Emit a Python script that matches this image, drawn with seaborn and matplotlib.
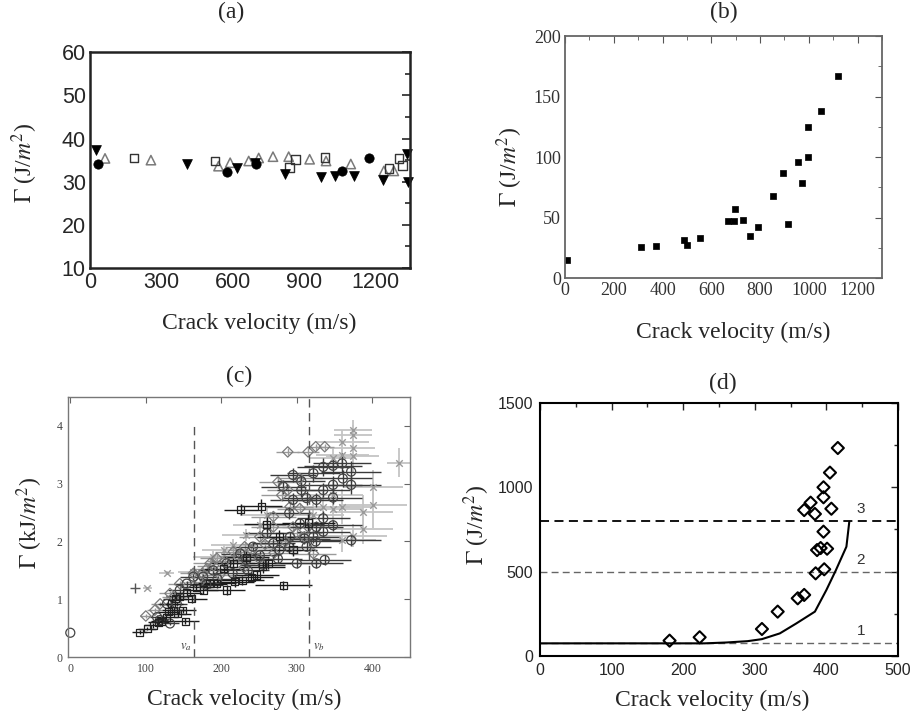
import numpy as np
import pandas as pd
import matplotlib
matplotlib.use("Agg")
import matplotlib.pyplot as plt
import seaborn as sns
from matplotlib.ticker import MultipleLocator

# ---------------- data ----------------
# (a)
a_tri_x = [24, 407, 618, 692, 818, 970, 1029, 1109, 1232, 1331, 1336]
a_tri_y = [37.3, 34.2, 33.1, 34.4, 31.9, 31.1, 31.3, 31.3, 30.5, 36.4, 30.0]
a_cir_x = [32, 576, 697, 1060, 1173]
a_cir_y = [34.1, 32.2, 34.1, 32.5, 35.6]
a_sq_x = [185, 526, 839, 863, 987, 1256, 1298, 1313]
a_sq_y = [35.5, 34.8, 33.3, 35.2, 35.6, 33.1, 35.4, 33.7]
a_otri_x = [63, 256, 540, 589, 667, 709, 769, 835, 923, 992, 1096, 1235, 1277]
a_otri_y = [35.4, 35.0, 33.6, 34.4, 34.8, 35.5, 35.8, 35.8, 35.2, 34.8, 34.1, 32.5, 32.5]

# (b)
b_x = [7, 310, 372, 488, 499, 555, 669, 693, 698, 731, 757, 792, 854, 896, 915,
       956, 971, 997, 997, 1049, 1120]
b_y = [14.9, 26.0, 26.8, 31.5, 27.3, 33.4, 47.2, 47.2, 56.9, 48.1, 34.5, 42.0, 67.4,
       87.0, 44.5, 95.6, 78.2, 100.0, 124.9, 138.4, 167.1]

# (c)
sq_x = [92, 102, 110, 117, 121, 127, 130, 137, 142, 149, 152, 134, 139, 145, 154,
        161, 167, 176, 185, 194, 207, 218, 228, 240, 247, 255, 262, 282, 226, 253,
        260, 277, 295, 315, 233, 216, 203]
sq_y = [0.43, 0.49, 0.55, 0.60, 0.62, 0.69, 0.78, 0.81, 0.75, 0.81, 0.62, 0.92, 1.01,
        1.05, 1.11, 1.01, 1.21, 1.16, 1.27, 1.28, 1.16, 1.30, 1.33, 1.38, 1.42, 1.56,
        1.62, 1.24, 2.55, 2.61, 2.30, 2.08, 1.86, 2.32, 1.73, 1.62, 1.53]
sq_xerr = [10, 12, 12, 14, 14, 15, 15, 16, 18, 18, 18, 15, 16, 18, 20, 20, 22, 20, 22,
           25, 25, 25, 28, 28, 30, 30, 30, 38, 22, 28, 30, 30, 32, 35, 30, 28, 26]
sq_yerr = [0.03, 0.03, 0.04, 0.04, 0.04, 0.05, 0.05, 0.05, 0.05, 0.05, 0.05, 0.06,
           0.06, 0.06, 0.07, 0.07, 0.07, 0.07, 0.08, 0.08, 0.08, 0.08, 0.08, 0.09,
           0.09, 0.10, 0.10, 0.08, 0.10, 0.12, 0.12, 0.12, 0.12, 0.15, 0.10, 0.10, 0.09]

ci_x = [295, 322, 335, 348, 360, 372, 372, 348, 335, 306, 295, 313, 326, 348, 290,
        304, 326, 335, 348, 372, 335, 322, 313, 300, 326, 337, 291, 277, 269, 251,
        233, 260, 242, 225, 207, 189, 176, 163, 154, 145, 141, 128, 119, 115, 132, 361,
        180, 195, 215, 235, 255, 275, 290, 310, 325, 306, 282]
ci_y = [3.15, 3.18, 3.29, 3.31, 3.35, 3.21, 2.98, 2.98, 2.89, 2.89, 2.72, 2.75, 2.72,
        2.76, 2.49, 2.31, 2.25, 2.40, 2.28, 2.02, 2.17, 2.08, 1.91, 1.62, 1.62, 1.68,
        2.08, 1.85, 1.97, 1.76, 1.68, 2.14, 1.91, 1.79, 1.62, 1.50, 1.39, 1.39, 1.27,
        1.16, 0.92, 0.92, 0.64, 0.69, 0.58, 3.09,
        1.25, 1.35, 1.45, 1.50, 1.60, 1.70, 1.90, 2.05, 2.00, 3.04, 2.95]
ci_xerr = [30, 35, 35, 38, 38, 40, 40, 38, 35, 32, 30, 32, 35, 38, 30, 32, 35, 35, 38,
           40, 35, 35, 32, 30, 35, 35, 30, 28, 28, 26, 25, 28, 26, 25, 22, 20, 20, 18,
           16, 15, 14, 12, 10, 10, 12, 38,
           22, 24, 26, 28, 30, 32, 34, 34, 36, 32, 30]
ci_yerr = [0.12, 0.15, 0.15, 0.15, 0.18, 0.18, 0.15, 0.15, 0.12, 0.12, 0.12, 0.12,
           0.12, 0.12, 0.10, 0.10, 0.10, 0.12, 0.10, 0.10, 0.10, 0.10, 0.08, 0.08,
           0.08, 0.08, 0.08, 0.08, 0.08, 0.07, 0.07, 0.08, 0.07, 0.07, 0.06, 0.06,
           0.05, 0.05, 0.05, 0.05, 0.04, 0.04, 0.03, 0.03, 0.03, 0.15,
           0.05, 0.06, 0.06, 0.07, 0.07, 0.08, 0.08, 0.09, 0.09, 0.12, 0.12]

di_x = [100, 112, 119, 132, 145, 163, 181, 194, 216, 231, 251, 269, 275, 288, 280,
        288, 315, 325, 337, 304, 291, 304, 322, 310, 295, 269, 198, 172, 137, 185,
        205, 222, 240, 258, 175, 190, 230, 250, 270, 285, 300, 315]
di_y = [0.71, 0.81, 0.92, 1.10, 1.27, 1.45, 1.53, 1.71, 1.82, 1.91, 2.08, 2.25, 3.03,
        2.89, 2.80, 3.55, 3.55, 3.64, 3.64, 3.09, 2.60, 2.57, 1.79, 2.08, 2.25, 2.43,
        1.42, 1.30, 1.04, 1.62,
        1.66, 1.75, 1.85, 1.95, 1.45, 1.58, 1.55, 1.70, 1.80, 2.00, 2.15, 2.25]
di_xerr = [8, 10, 12, 14, 16, 18, 20, 22, 24, 26, 28, 30, 25, 28, 28, 15, 15, 12, 12,
           30, 30, 30, 30, 30, 30, 30, 22, 20, 15, 22,
           24, 26, 28, 30, 20, 22, 28, 30, 32, 32, 34, 34]
di_yerr = [0.03, 0.04, 0.04, 0.05, 0.05, 0.06, 0.06, 0.07, 0.07, 0.08, 0.08, 0.09,
           0.10, 0.10, 0.10, 0.06, 0.06, 0.05, 0.05, 0.10, 0.10, 0.10, 0.08, 0.09,
           0.09, 0.09, 0.06, 0.05, 0.05, 0.06,
           0.07, 0.07, 0.08, 0.08, 0.06, 0.06, 0.07, 0.07, 0.08, 0.09, 0.09, 0.10]

xm_x = [102, 128, 374, 374, 360, 360, 348, 435, 401, 401, 388, 388, 374, 360, 360,
        348, 335, 374, 216, 233, 203, 189, 251, 163, 260, 374, 322, 348]
xm_y = [1.19, 1.45, 3.93, 3.84, 3.73, 3.50, 3.44, 3.36, 2.94, 2.63, 2.51, 2.21, 2.10,
        2.02, 2.60, 2.57, 2.60, 3.61, 1.94, 2.11, 1.85, 1.73, 2.28, 1.47, 2.46, 3.48,
        2.45, 2.80]
xm_xerr = [6, 10, 25, 25, 35, 35, 30, 15, 40, 45, 40, 40, 45, 45, 40, 40, 35, 30, 30,
           32, 28, 26, 35, 20, 35, 35, 40, 40]
xm_yerr = [0.02, 0.03, 0.18, 0.18, 0.2, 0.2, 0.2, 0.25, 0.3, 0.4, 0.3, 0.25, 0.2, 0.2,
           0.3, 0.25, 0.25, 0.2, 0.1, 0.1, 0.1, 0.1, 0.15, 0.05, 0.15, 0.3, 0.2, 0.25]

plus_x = [86]
plus_y = [1.19]
origin_x = [0]
origin_y = [0.42]
c_va = 164
c_vb = 316

# (d)
d_x = [181, 223, 310, 332, 360, 369, 385, 397, 387, 392, 401, 396, 369, 378, 384,
       407, 396, 396, 405, 416]
d_y = [91, 111, 160, 263, 342, 362, 490, 514, 628, 640, 636, 737, 865, 909, 842,
       873, 941, 1000, 1087, 1233]
curve_x = [0, 230, 260, 290, 310, 335, 358, 384, 400, 413, 428, 432]
curve_y = [75, 75, 80, 88, 100, 134, 193, 263, 391, 506, 648, 795]
d_levels = [75, 500, 800]
d_level_labels = ["1", "2", "3"]

# ---------------- style ----------------
sns.set_style("white")
plt.rcParams["font.family"] = ["Liberation Serif", "DejaVu Serif"]
plt.rcParams["mathtext.fontset"] = "stix"
plt.rcParams["axes.linewidth"] = 1.0

fig = plt.figure(figsize=(9.12, 7.16), dpi=100)
LBL = 17

ax_a = fig.add_axes([0.0987, 0.6257, 0.3509, 0.3013])
ax_b = fig.add_axes([0.6195, 0.6117, 0.3476, 0.3380])
ax_c = fig.add_axes([0.0746, 0.0824, 0.3750, 0.3631])
ax_d = fig.add_axes([0.5921, 0.0838, 0.3925, 0.3534])


def labels(ax, xl, yl, xpos, ypos, title, tpos):
    ax.set_xlabel(xl, fontsize=LBL, va="center", ha="center")
    ax.xaxis.set_label_coords(*xpos)
    ax.set_ylabel(yl, fontsize=LBL, va="center", ha="center")
    ax.yaxis.set_label_coords(*ypos)
    ax.text(tpos[0], tpos[1], title, transform=ax.transAxes, ha="center",
            va="center", fontsize=LBL)


XL = "Crack velocity (m/s)"
YL = r"$\Gamma$ (J/$m^2$)"

# ---- (a)
sns.scatterplot(x=a_otri_x, y=a_otri_y, marker="^", s=45, facecolor="none",
                edgecolor="#7a7a7a", linewidth=1.1, ax=ax_a)
sns.scatterplot(x=a_sq_x, y=a_sq_y, marker="s", s=38, facecolor="none",
                edgecolor="#333333", linewidth=1.0, ax=ax_a)
sns.scatterplot(x=a_tri_x, y=a_tri_y, marker="v", s=50, color="black",
                edgecolor="black", linewidth=0.5, ax=ax_a, clip_on=False)
sns.scatterplot(x=a_cir_x, y=a_cir_y, marker="o", s=45, color="black",
                edgecolor="black", linewidth=0.5, ax=ax_a)
ax_a.set_xlim(0, 1345)
ax_a.set_ylim(10, 60)
ax_a.xaxis.set_major_locator(MultipleLocator(300))
ax_a.xaxis.set_minor_locator(MultipleLocator(150))
ax_a.yaxis.set_major_locator(MultipleLocator(10))
ax_a.yaxis.set_minor_locator(MultipleLocator(5))
ax_a.tick_params(which="both", direction="in", right=True, top=False,
                 labelsize=15.5, width=1.2, pad=3)
ax_a.tick_params(which="major", length=6)
ax_a.tick_params(which="minor", length=3.5)
for lab in ax_a.get_xticklabels() + ax_a.get_yticklabels():
    lab.set_family(["Liberation Sans", "DejaVu Sans"])
for sp in ax_a.spines.values():
    sp.set_linewidth(1.8)
    sp.set_color("#222222")
labels(ax_a, XL, YL, (0.53, -0.255), (-0.203, 0.486), "(a)", (0.44, 1.185))

# ---- (b)
sns.scatterplot(x=b_x, y=b_y, marker="s", s=22, color="black", edgecolor="black",
                linewidth=0.5, ax=ax_b)
ax_b.set_xlim(0, 1300)
ax_b.set_ylim(0, 200)
ax_b.xaxis.set_major_locator(MultipleLocator(200))
ax_b.xaxis.set_minor_locator(MultipleLocator(100))
ax_b.yaxis.set_major_locator(MultipleLocator(50))
ax_b.yaxis.set_minor_locator(MultipleLocator(25))
ax_b.tick_params(which="both", direction="in", right=True, top=True,
                 labelsize=13, labelcolor="#333333", color="#555555", pad=3)
ax_b.tick_params(which="major", length=5)
ax_b.tick_params(which="minor", length=3)
for sp in ax_b.spines.values():
    sp.set_linewidth(1.3)
    sp.set_color("#666666")
labels(ax_b, XL, YL, (0.53, -0.223), (-0.174, 0.459), "(b)", (0.5, 1.099))

# ---- (c)
def ebar(ax, x, y, xe, ye, col, lw):
    ax.errorbar(x, y, xerr=xe, yerr=ye, fmt="none", ecolor=col, elinewidth=lw,
                capsize=0, zorder=1)

ebar(ax_c, xm_x, xm_y, xm_xerr, xm_yerr, "#c4c4c4", 1.3)
ebar(ax_c, di_x, di_y, di_xerr, di_yerr, "#9a9a9a", 1.0)
ebar(ax_c, ci_x, ci_y, ci_xerr, ci_yerr, "#3a3a3a", 1.0)
ebar(ax_c, sq_x, sq_y, sq_xerr, sq_yerr, "#1a1a1a", 1.0)
sns.scatterplot(x=xm_x, y=xm_y, marker="x", s=22, color="#9a9a9a", linewidth=1.0,
                ax=ax_c, zorder=2)
sns.scatterplot(x=di_x, y=di_y, marker="D", s=28, facecolor="none",
                edgecolor="#7a7a7a", linewidth=0.9, ax=ax_c, zorder=2)
sns.scatterplot(x=ci_x, y=ci_y, marker="o", s=42, facecolor="none",
                edgecolor="#444444", linewidth=0.9, ax=ax_c, zorder=2)
sns.scatterplot(x=sq_x, y=sq_y, marker="s", s=26, facecolor="none",
                edgecolor="#222222", linewidth=0.9, ax=ax_c, zorder=3)
sns.scatterplot(x=plus_x, y=plus_y, marker="+", s=50, color="#555555",
                linewidth=1.0, ax=ax_c)
sns.scatterplot(x=origin_x, y=origin_y, marker="o", s=42, facecolor="none",
                edgecolor="#444444", linewidth=0.9, ax=ax_c, clip_on=False)
ax_c.plot([c_va, c_va], [0, 4.0], ls=(0, (6, 4)), color="#555555", lw=1.0)
ax_c.plot([c_vb, c_vb], [0, 4.5], ls=(0, (6, 4)), color="#555555", lw=1.0)
ax_c.text(c_va - 3, 0.18, r"$v_a$", ha="right", va="center", fontsize=9,
          color="#333333")
ax_c.text(c_vb + 5, 0.18, r"$v_b$", ha="left", va="center", fontsize=9,
          color="#333333")
ax_c.set_xlim(-3, 450)
ax_c.set_ylim(0, 4.5)
ax_c.xaxis.set_major_locator(MultipleLocator(100))
ax_c.yaxis.set_major_locator(MultipleLocator(1))
ax_c.tick_params(which="both", direction="in", right=True, top=True,
                 labelsize=8.5, labelcolor="#444444", color="#666666", length=4,
                 pad=4)
for sp in ax_c.spines.values():
    sp.set_linewidth(1.0)
    sp.set_color("#777777")
labels(ax_c, XL, r"$\Gamma$ (kJ/$m^2$)", (0.515, -0.165), (-0.111, 0.515),
       "(c)", (0.5, 1.081))

# ---- (d)
for lv, lt in zip(d_levels, d_level_labels):
    ax_d.axhline(lv, ls=(0, (5, 3)), color="black" if lt == "3" else "#666666",
                 lw=1.3 if lt == "3" else 1.0, zorder=1)
    ax_d.text(448, lv + 30, lt, ha="center", va="bottom", fontsize=11,
              family=["Liberation Sans", "DejaVu Sans"], color="#333333")
sns.lineplot(x=curve_x, y=curve_y, color="black", linewidth=1.5, ax=ax_d,
             estimator=None, sort=False)
sns.scatterplot(x=d_x, y=d_y, marker="D", s=38, facecolor="none",
                edgecolor="black", linewidth=1.5, ax=ax_d, zorder=3)
ax_d.set_xlim(0, 500)
ax_d.set_ylim(0, 1500)
ax_d.xaxis.set_major_locator(MultipleLocator(100))
ax_d.xaxis.set_minor_locator(MultipleLocator(50))
ax_d.yaxis.set_major_locator(MultipleLocator(500))
ax_d.yaxis.set_minor_locator(MultipleLocator(250))
ax_d.tick_params(which="both", direction="in", right=True, top=True,
                 labelsize=11.5, width=1.0, pad=5)
ax_d.tick_params(which="major", length=5)
ax_d.tick_params(which="minor", length=3)
for lab in ax_d.get_xticklabels() + ax_d.get_yticklabels():
    lab.set_family(["Liberation Sans", "DejaVu Sans"])
for sp in ax_d.spines.values():
    sp.set_linewidth(1.5)
    sp.set_color("black")
labels(ax_d, XL, YL, (0.48, -0.174), (-0.176, 0.518), "(d)", (0.51, 1.079))

fig.savefig("out.png", dpi=100)
